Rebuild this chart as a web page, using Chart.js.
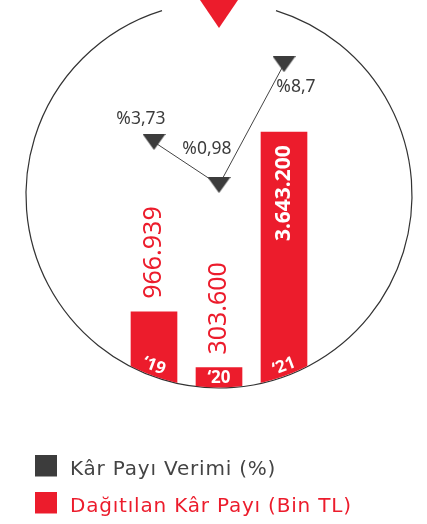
<!DOCTYPE html>
<html lang="tr">
<head>
<meta charset="utf-8">
<title>Kâr Payı</title>
<script src="https://cdn.jsdelivr.net/npm/chart.js@4.4.0/dist/chart.umd.min.js"></script>
<style>
  html, body { margin: 0; padding: 0; background: #fff; }
</style>
</head>
<body>
<canvas id="grafikKarPayi" width="427" height="524"></canvas>
<script>
// Veriler
var yillar = ['\u201819', '\u201820', '\u201821'];
var karPayiVerimi = [3.73, 0.98, 8.7];
var dagitilanKarPayi = [966939, 303600, 3643200];
var seriAdlari = ['Kâr Payı Verimi (%)', 'Dağıtılan Kâr Payı (Bin TL)'];

var KIRMIZI = '#ec1c2c';
var KOYU = '#3c3c3c';
var YAZI = '"Noto Sans", "Open Sans", sans-serif';
var LEJANT_YAZI = '"DejaVu Sans", sans-serif';

// çember (merkez, yarıçap)
var CX = 219, CY = 195, R = 193;
function cemberAlti(x) {
    var dx = x - CX;
    return CY + Math.sqrt(R * R - dx * dx);
}

// etiket kaydırmaları (çizgi noktalarına göre)
var verimEtiketKayma = [[-13, -23], [-12, -36], [12, 23]];

function binlik(n) {
    return String(n).replace(/\B(?=(\d{3})+(?!\d))/g, '.');
}
function yuzde(v) {
    return '%' + String(v).replace('.', ',');
}

// aşağı bakan üçgen nokta
var ucgen = document.createElement('canvas');
ucgen.width = 23;
ucgen.height = 16;
var uc = ucgen.getContext('2d');
uc.fillStyle = KOYU;
uc.beginPath();
uc.moveTo(0, 0);
uc.lineTo(23, 0);
uc.lineTo(11.5, 16);
uc.closePath();
uc.fill();

// lejant kutuları (yazının biraz üstünde ve solunda durur)
function lejantKutusu(renk) {
    var c = document.createElement('canvas');
    c.width = 25;
    c.height = 31;
    var k = c.getContext('2d');
    k.fillStyle = renk;
    k.fillRect(0, 0, 22, 22);
    return c;
}
var kutuKoyu = lejantKutusu(KOYU);
var kutuKirmizi = lejantKutusu(KIRMIZI);

// lejant yazısı biraz geniş aralıklı
var harfAraligi = {
    id: 'harfAraligi',
    beforeLayout: function (chart) { chart.ctx.letterSpacing = '0.8px'; },
    beforeDraw: function (chart) { chart.ctx.letterSpacing = '0.8px'; }
};

var cemberEklentisi = {
    id: 'cember',
    beforeDatasetsDraw: function (chart) {
        var ctx = chart.ctx;
        var a = Math.asin(57 / R);
        ctx.save();
        ctx.strokeStyle = '#333';
        ctx.lineWidth = 1.2;
        ctx.beginPath();
        ctx.arc(CX, CY, R, -Math.PI / 2 + a, 3 * Math.PI / 2 - a);
        ctx.stroke();
        ctx.fillStyle = KIRMIZI;
        ctx.beginPath();
        ctx.moveTo(CX - 19, 0);
        ctx.lineTo(CX + 19, 0);
        ctx.lineTo(CX, 28);
        ctx.closePath();
        ctx.fill();
        ctx.restore();
    },
    beforeDatasetDraw: function (chart, args) {
        if (args.meta.type !== 'bar') return;
        var y = chart.scales.y;
        var veri = chart.data.datasets[args.index].data;
        args.meta.data.forEach(function (bar, i) {
            var h = y.getPixelForValue(0) - y.getPixelForValue(veri[i]);
            var alt = cemberAlti(bar.x);
            bar.y = alt - h;
            bar.base = alt + 12;
        });
        var ctx = chart.ctx;
        ctx.save();
        ctx.beginPath();
        ctx.arc(CX, CY, R - 0.6, 0, Math.PI * 2);
        ctx.clip();
    },
    afterDatasetDraw: function (chart, args) {
        if (args.meta.type !== 'bar') return;
        chart.ctx.restore();
    },
    afterDatasetsDraw: function (chart) {
        var ctx = chart.ctx;
        var barMeta = chart.getDatasetMeta(1);
        var lineMeta = chart.getDatasetMeta(0);
        ctx.save();
        ctx.letterSpacing = '0px';
        ctx.textBaseline = 'middle';

        // çubuk değerleri (dikey)
        barMeta.data.forEach(function (bar, i) {
            var metin = binlik(dagitilanKarPayi[i]);
            ctx.save();
            if (i === 2) {
                ctx.translate(bar.x, bar.y + 13);
                ctx.rotate(-Math.PI / 2);
                ctx.textAlign = 'right';
                ctx.fillStyle = '#fff';
                ctx.font = 'bold 21px ' + YAZI;
            } else {
                ctx.translate(bar.x, bar.y - 13);
                ctx.rotate(-Math.PI / 2);
                ctx.textAlign = 'left';
                ctx.fillStyle = KIRMIZI;
                ctx.font = '25px ' + YAZI;
            }
            ctx.fillText(metin, 0, 0);
            ctx.restore();

            // yıl etiketi, çembere teğet
            var r2 = R - 10;
            var dx = bar.x - CX;
            var yy = CY + Math.sqrt(r2 * r2 - dx * dx);
            ctx.save();
            ctx.translate(bar.x, yy);
            ctx.rotate(-Math.asin(dx / r2));
            ctx.textAlign = 'center';
            ctx.fillStyle = '#fff';
            ctx.font = 'bold 17px ' + YAZI;
            ctx.fillText(yillar[i], 0, 0);
            ctx.restore();
        });

        // verim etiketleri
        ctx.fillStyle = KOYU;
        ctx.font = '17.5px ' + YAZI;
        ctx.textAlign = 'center';
        lineMeta.data.forEach(function (p, i) {
            var k = verimEtiketKayma[i];
            ctx.fillText(yuzde(karPayiVerimi[i]), p.x + k[0], p.y + k[1]);
        });
        ctx.restore();
    }
};

var ctxKarPayi = document.getElementById('grafikKarPayi').getContext('2d');
new Chart(ctxKarPayi, {
    type: 'bar',
    data: {
        labels: yillar,
        datasets: [
            {
                type: 'line',
                label: seriAdlari[0],
                data: karPayiVerimi,
                yAxisID: 'y1',
                borderColor: '#444',
                backgroundColor: KOYU,
                borderWidth: 1,
                pointStyle: ucgen,
                pointRadius: 10,
                fill: false,
                tension: 0
            },
            {
                label: seriAdlari[1],
                data: dagitilanKarPayi,
                yAxisID: 'y',
                backgroundColor: KIRMIZI,
                borderWidth: 0,
                barThickness: 46
            }
        ]
    },
    options: {
        responsive: false,
        animation: false,
        layout: {
            autoPadding: false,
            padding: { left: 18, right: 0, top: 0, bottom: -3 }
        },
        scales: {
            x: {
                display: false,
                offset: true
            },
            y: {
                position: 'left',
                min: 0,
                max: 6600000,
                grid: { display: false },
                border: { display: false },
                ticks: { display: false },
                afterFit: function (s) { s.width = 103.5; }
            },
            y1: {
                position: 'right',
                min: -15.5,
                max: 12.8,
                grid: { display: false },
                border: { display: false },
                ticks: { display: false },
                afterFit: function (s) { s.width = 110.5; }
            }
        },
        plugins: {
            tooltip: { enabled: false },
            legend: {
                position: 'bottom',
                align: 'start',
                labels: {
                    usePointStyle: true,
                    pointStyleWidth: 25,
                    boxHeight: 20,
                    padding: 17,
                    font: { family: LEJANT_YAZI, size: 20 },
                    generateLabels: function (chart) {
                        var kutular = [kutuKoyu, kutuKirmizi];
                        var yaziRenk = ['#444', KIRMIZI];
                        return chart.data.datasets.map(function (ds, i) {
                            return {
                                text: ds.label,
                                pointStyle: kutular[i],
                                fillStyle: yaziRenk[i],
                                strokeStyle: yaziRenk[i],
                                lineWidth: 0,
                                fontColor: yaziRenk[i],
                                datasetIndex: i,
                                hidden: false
                            };
                        });
                    }
                }
            }
        }
    },
    plugins: [harfAraligi, cemberEklentisi]
});
</script>
</body>
</html>
